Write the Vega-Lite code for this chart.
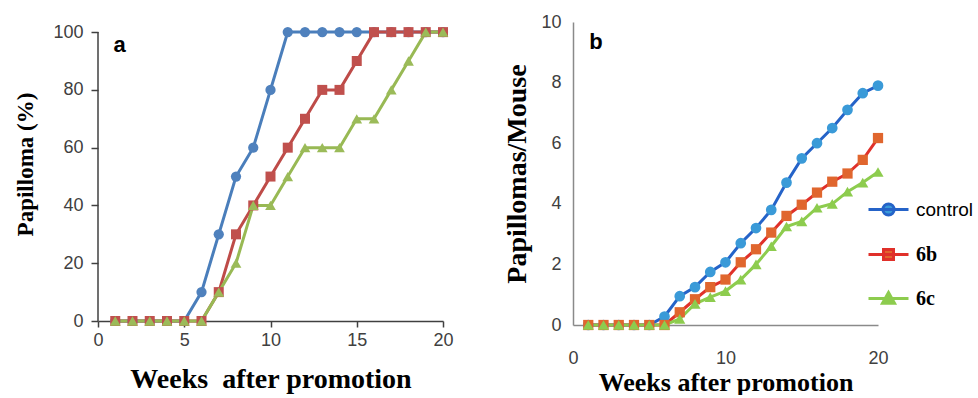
{
  "$schema": "https://vega.github.io/schema/vega-lite/v6.json",
  "background": "white",
  "padding": {"left": 14, "top": 13, "right": 0, "bottom": 0},
  "bounds": "flush",
  "spacing": 130,
  "config": {"view": {"stroke": null}},
  "datasets": {
    "a": [
      {"series":"control","week":1,"value":0},{"series":"control","week":2,"value":0},{"series":"control","week":3,"value":0},{"series":"control","week":4,"value":0},{"series":"control","week":5,"value":0},{"series":"control","week":6,"value":10},{"series":"control","week":7,"value":30},{"series":"control","week":8,"value":50},{"series":"control","week":9,"value":60},{"series":"control","week":10,"value":80},{"series":"control","week":11,"value":100},{"series":"control","week":12,"value":100},{"series":"control","week":13,"value":100},{"series":"control","week":14,"value":100},{"series":"control","week":15,"value":100},{"series":"control","week":16,"value":100},{"series":"control","week":17,"value":100},{"series":"control","week":18,"value":100},{"series":"control","week":19,"value":100},{"series":"control","week":20,"value":100},
      {"series":"6b","week":1,"value":0},{"series":"6b","week":2,"value":0},{"series":"6b","week":3,"value":0},{"series":"6b","week":4,"value":0},{"series":"6b","week":5,"value":0},{"series":"6b","week":6,"value":0},{"series":"6b","week":7,"value":10},{"series":"6b","week":8,"value":30},{"series":"6b","week":9,"value":40},{"series":"6b","week":10,"value":50},{"series":"6b","week":11,"value":60},{"series":"6b","week":12,"value":70},{"series":"6b","week":13,"value":80},{"series":"6b","week":14,"value":80},{"series":"6b","week":15,"value":90},{"series":"6b","week":16,"value":100},{"series":"6b","week":17,"value":100},{"series":"6b","week":18,"value":100},{"series":"6b","week":19,"value":100},{"series":"6b","week":20,"value":100},
      {"series":"6c","week":1,"value":0},{"series":"6c","week":2,"value":0},{"series":"6c","week":3,"value":0},{"series":"6c","week":4,"value":0},{"series":"6c","week":5,"value":0},{"series":"6c","week":6,"value":0},{"series":"6c","week":7,"value":10},{"series":"6c","week":8,"value":20},{"series":"6c","week":9,"value":40},{"series":"6c","week":10,"value":40},{"series":"6c","week":11,"value":50},{"series":"6c","week":12,"value":60},{"series":"6c","week":13,"value":60},{"series":"6c","week":14,"value":60},{"series":"6c","week":15,"value":70},{"series":"6c","week":16,"value":70},{"series":"6c","week":17,"value":80},{"series":"6c","week":18,"value":90},{"series":"6c","week":19,"value":100},{"series":"6c","week":20,"value":100}
    ],
    "b": [
      {"series":"control","week":1,"value":0},{"series":"control","week":2,"value":0},{"series":"control","week":3,"value":0},{"series":"control","week":4,"value":0},{"series":"control","week":5,"value":0},{"series":"control","week":6,"value":0.28},{"series":"control","week":7,"value":0.95},{"series":"control","week":8,"value":1.25},{"series":"control","week":9,"value":1.75},{"series":"control","week":10,"value":2.07},{"series":"control","week":11,"value":2.7},{"series":"control","week":12,"value":3.2},{"series":"control","week":13,"value":3.8},{"series":"control","week":14,"value":4.7},{"series":"control","week":15,"value":5.5},{"series":"control","week":16,"value":6.0},{"series":"control","week":17,"value":6.5},{"series":"control","week":18,"value":7.1},{"series":"control","week":19,"value":7.65},{"series":"control","week":20,"value":7.9},
      {"series":"6b","week":1,"value":0},{"series":"6b","week":2,"value":0},{"series":"6b","week":3,"value":0},{"series":"6b","week":4,"value":0},{"series":"6b","week":5,"value":0},{"series":"6b","week":6,"value":0},{"series":"6b","week":7,"value":0.42},{"series":"6b","week":8,"value":0.85},{"series":"6b","week":9,"value":1.25},{"series":"6b","week":10,"value":1.5},{"series":"6b","week":11,"value":2.07},{"series":"6b","week":12,"value":2.5},{"series":"6b","week":13,"value":3.05},{"series":"6b","week":14,"value":3.6},{"series":"6b","week":15,"value":3.97},{"series":"6b","week":16,"value":4.37},{"series":"6b","week":17,"value":4.73},{"series":"6b","week":18,"value":5.0},{"series":"6b","week":19,"value":5.45},{"series":"6b","week":20,"value":6.17},
      {"series":"6c","week":1,"value":0},{"series":"6c","week":2,"value":0},{"series":"6c","week":3,"value":0},{"series":"6c","week":4,"value":0},{"series":"6c","week":5,"value":0},{"series":"6c","week":6,"value":0},{"series":"6c","week":7,"value":0.2},{"series":"6c","week":8,"value":0.7},{"series":"6c","week":9,"value":0.92},{"series":"6c","week":10,"value":1.12},{"series":"6c","week":11,"value":1.5},{"series":"6c","week":12,"value":2.0},{"series":"6c","week":13,"value":2.6},{"series":"6c","week":14,"value":3.25},{"series":"6c","week":15,"value":3.42},{"series":"6c","week":16,"value":3.87},{"series":"6c","week":17,"value":4.0},{"series":"6c","week":18,"value":4.4},{"series":"6c","week":19,"value":4.7},{"series":"6c","week":20,"value":5.05}
    ]
  },
  "resolve": {"scale": {"color": "independent", "shape": "independent", "fill": "independent"}},
  "hconcat": [
    {
      "width": 345,
      "height": 299,
      "layer": [
        {
          "data": {"values": [{"week": 0, "value": 0, "value2": 100}]},
          "mark": {"type": "rule", "color": "#404040", "strokeWidth": 1.5},
          "encoding": {
            "x": {"field": "week", "type": "quantitative", "scale": {"domain": [0, 20], "nice": false},
              "axis": {"values": [0, 5, 10, 15, 20], "title": "Weeks\u00a0 after promotion", "titleFont": "Liberation Serif", "titleFontWeight": "bold", "titleFontSize": 28, "titleColor": "black", "titlePadding": 16, "labelFont": "Liberation Sans", "labelFontSize": 18, "labelColor": "#404040", "labelPadding": 4, "tickSize": 6, "tickColor": "#404040", "tickWidth": 1.5, "domainColor": "#404040", "domainWidth": 1.5, "grid": false, "labelFlush": false}},
            "y": {"field": "value", "type": "quantitative", "scale": {"domain": [0, 103.5], "nice": false},
              "axis": {"values": [0, 20, 40, 60, 80, 100], "title": "Papilloma (%)", "titleY": 142, "titleFont": "Liberation Serif", "titleFontWeight": "bold", "titleFontSize": 23, "titleColor": "black", "titlePadding": 15, "labelFont": "Liberation Sans", "labelFontSize": 18, "labelColor": "#404040", "labelPadding": 8, "tickSize": 7, "tickColor": "#404040", "tickWidth": 1.5, "domain": false, "grid": false}},
            "y2": {"field": "value2"}
          }
        },
        {
          "data": {"name": "a"},
          "mark": {"type": "line", "strokeWidth": 3},
          "encoding": {
            "x": {"field": "week", "type": "quantitative"},
            "y": {"field": "value", "type": "quantitative"},
            "color": {"field": "series", "type": "nominal", "scale": {"domain": ["control", "6b", "6c"], "range": ["#4a7ebb", "#be4b48", "#98b954"]}, "legend": null}
          }
        },
        {
          "data": {"name": "a"},
          "transform": [{"filter": "datum.series === 'control'"}],
          "mark": {"type": "point", "shape": "circle", "filled": true, "opacity": 1, "size": 105, "color": "#4f81bd"},
          "encoding": {"x": {"field": "week", "type": "quantitative"}, "y": {"field": "value", "type": "quantitative"}}
        },
        {
          "data": {"name": "a"},
          "transform": [{"filter": "datum.series === '6b'"}],
          "mark": {"type": "point", "shape": "square", "filled": true, "opacity": 1, "size": 100, "color": "#c0504d"},
          "encoding": {"x": {"field": "week", "type": "quantitative"}, "y": {"field": "value", "type": "quantitative"}}
        },
        {
          "data": {"name": "a"},
          "transform": [{"filter": "datum.series === '6c'"}],
          "mark": {"type": "point", "shape": "triangle-up", "filled": true, "opacity": 1, "size": 115, "color": "#9bbb59"},
          "encoding": {"x": {"field": "week", "type": "quantitative"}, "y": {"field": "value", "type": "quantitative"}}
        },
        {
          "data": {"values": [{"week": 1.25, "value": 95.5, "label": "a"}]},
          "mark": {"type": "text", "font": "Liberation Sans", "fontWeight": "bold", "fontSize": 22, "align": "center", "baseline": "middle", "color": "black"},
          "encoding": {
            "x": {"field": "week", "type": "quantitative"},
            "y": {"field": "value", "type": "quantitative"},
            "text": {"field": "label"}
          }
        }
      ]
    },
    {
      "width": 305,
      "height": 303,
      "layer": [
        {
          "data": {"name": "b"},
          "mark": {"type": "line", "strokeWidth": 3},
          "encoding": {
            "x": {"field": "week", "type": "quantitative", "scale": {"domain": [0, 20], "nice": false},
              "axis": {"values": [0, 10, 20], "title": "Weeks after promotion", "titleFont": "Liberation Serif", "titleFontWeight": "bold", "titleFontSize": 26, "titleColor": "black", "titlePadding": 2, "labelFont": "Liberation Sans", "labelFontSize": 18, "labelColor": "#404040", "labelPadding": 24, "ticks": false, "domainColor": "#8a8a8a", "domainWidth": 1.5, "grid": false, "labelFlush": false}},
            "y": {"field": "value", "type": "quantitative", "scale": {"domain": [0, 10], "nice": false},
              "axis": {"values": [0, 2, 4, 6, 8, 10], "title": "Papillomas/Mouse", "titleFont": "Liberation Serif", "titleFontWeight": "bold", "titleFontSize": 28, "titleColor": "black", "titlePadding": 9, "labelFont": "Liberation Sans", "labelFontSize": 18, "labelColor": "#404040", "labelPadding": 12, "ticks": false, "domainColor": "#8a8a8a", "domainWidth": 1.5, "grid": false}},
            "color": {"field": "series", "type": "nominal", "scale": {"domain": ["control", "6b", "6c"], "range": ["#2563c8", "#e0302a", "#8dcc4e"]},
              "legend": {
                "orient": "none", "legendX": 294, "legendY": 166, "title": null,
                "symbolSize": 1600, "symbolStrokeWidth": 3, "rowPadding": 11, "labelOffset": 6,
                "labelFontSize": 19, "labelColor": "black",
                "encode": {
                  "symbols": {"update": {
                    "shape": {"signal": "datum.value === 'control' ? 'M-1,0H1M0.28,0A0.28,0.28,0,1,1,-0.28,0A0.28,0.28,0,1,1,0.28,0Z' : datum.value === '6b' ? 'M-1,0H1M-0.25,-0.25H0.25V0.25H-0.25Z' : 'M-1,0H1M0,-0.3L0.3,0.24L-0.3,0.24Z'"},
                    "fill": {"signal": "datum.value === 'control' ? '#3a9ad8' : datum.value === '6b' ? '#e0662e' : '#8dcc4e'"},
                    "fillOpacity": {"value": 1}
                  }},
                  "labels": {"update": {
                    "font": {"signal": "datum.value === 'control' ? 'Liberation Sans' : 'Liberation Serif'"},
                    "fontWeight": {"signal": "datum.value === 'control' ? 'normal' : 'bold'"},
                    "fontSize": {"signal": "datum.value === 'control' ? 19 : 20"}
                  }}
                }
              }}
          }
        },
        {
          "data": {"name": "b"},
          "transform": [{"filter": "datum.series === 'control'"}],
          "mark": {"type": "point", "shape": "circle", "filled": true, "opacity": 1, "size": 115, "color": "#3a9ad8"},
          "encoding": {"x": {"field": "week", "type": "quantitative"}, "y": {"field": "value", "type": "quantitative"}}
        },
        {
          "data": {"name": "b"},
          "transform": [{"filter": "datum.series === '6b'"}],
          "mark": {"type": "point", "shape": "square", "filled": true, "opacity": 1, "size": 105, "color": "#e0662e"},
          "encoding": {"x": {"field": "week", "type": "quantitative"}, "y": {"field": "value", "type": "quantitative"}}
        },
        {
          "data": {"name": "b"},
          "transform": [{"filter": "datum.series === '6c'"}],
          "mark": {"type": "point", "shape": "triangle-up", "filled": true, "opacity": 1, "size": 125, "color": "#8dcc4e"},
          "encoding": {"x": {"field": "week", "type": "quantitative"}, "y": {"field": "value", "type": "quantitative"}}
        },
        {
          "data": {"values": [{"week": 1.5, "value": 9.35, "label": "b"}]},
          "mark": {"type": "text", "font": "Liberation Sans", "fontWeight": "bold", "fontSize": 22, "align": "center", "baseline": "middle", "color": "black"},
          "encoding": {
            "x": {"field": "week", "type": "quantitative"},
            "y": {"field": "value", "type": "quantitative"},
            "text": {"field": "label"}
          }
        }
      ]
    }
  ]
}
